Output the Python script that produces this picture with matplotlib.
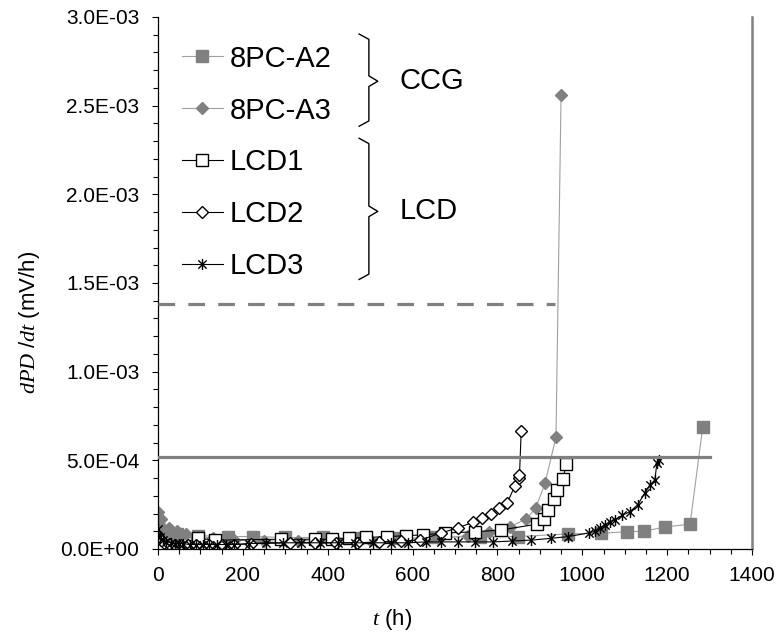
import numpy as np
import matplotlib
matplotlib.use("Agg")
import matplotlib.pyplot as plt
from matplotlib.path import Path
from matplotlib.ticker import MultipleLocator, FuncFormatter

plt.rcParams["font.family"] = ["Liberation Sans", "DejaVu Sans"]
plt.rcParams["mathtext.fontset"] = "custom"
plt.rcParams["mathtext.it"] = "Liberation Serif:italic"
plt.rcParams["mathtext.rm"] = "Liberation Sans"
plt.rcParams["lines.scale_dashes"] = False

# ---- Data (t in h, dPD/dt in 1e-3 mV/h) -----------------------------------
a2_t = [0, 20, 45, 95, 165, 225, 300, 390, 470, 560, 650, 760, 848, 966,
        1045, 1105, 1145, 1195, 1254, 1284]
a2_y = [0.12, 0.10, 0.085, 0.075, 0.07, 0.07, 0.065, 0.065, 0.06, 0.06,
        0.065, 0.07, 0.07, 0.085, 0.09, 0.097, 0.10, 0.124, 0.14, 0.69]

a3_t = [0, 8, 25, 45, 65, 90, 130, 180, 250, 330, 420, 500, 580, 660, 730,
        780, 830, 868, 890, 912, 938, 950]
a3_y = [0.21, 0.17, 0.12, 0.10, 0.085, 0.07, 0.06, 0.05, 0.045, 0.045, 0.05,
        0.05, 0.055, 0.06, 0.075, 0.095, 0.125, 0.17, 0.23, 0.37, 0.63, 2.56]

lcd1_t = [0, 95, 135, 290, 370, 410, 450, 490, 540, 585, 625, 676, 747, 808,
          893, 910, 919, 933, 940, 955, 962]
lcd1_y = [0.0, 0.06, 0.05, 0.055, 0.055, 0.055, 0.06, 0.065, 0.07, 0.075,
          0.08, 0.09, 0.097, 0.107, 0.14, 0.17, 0.22, 0.28, 0.33, 0.395, 0.48]

lcd2_t = [0, 8, 15, 25, 40, 55, 70, 90, 120, 150, 180, 220, 310, 370, 420,
          470, 520, 573, 617, 667, 707, 742, 764, 785, 804, 823, 841, 850,
          852, 856]
lcd2_y = [0.075, 0.05, 0.035, 0.03, 0.025, 0.025, 0.02, 0.02, 0.02, 0.02,
          0.025, 0.03, 0.035, 0.035, 0.035, 0.035, 0.04, 0.045, 0.05, 0.09,
          0.12, 0.15, 0.175, 0.20, 0.23, 0.26, 0.355, 0.40, 0.415, 0.665]

lcd3_t = [0, 5, 12, 20, 30, 40, 50, 60, 75, 90, 105, 120, 140, 160, 180, 215,
          255, 295, 337, 382, 424, 465, 507, 549, 590, 632, 668, 707, 747,
          790, 834, 879, 926, 966, 1015, 1030, 1042, 1053, 1065, 1077, 1094,
          1112, 1131, 1147, 1159, 1171, 1176, 1180]
lcd3_y = [0.11, 0.07, 0.05, 0.04, 0.035, 0.03, 0.03, 0.03, 0.025, 0.025,
          0.025, 0.025, 0.025, 0.025, 0.025, 0.03, 0.035, 0.035, 0.035, 0.035,
          0.035, 0.035, 0.035, 0.035, 0.035, 0.04, 0.04, 0.04, 0.04, 0.04,
          0.045, 0.05, 0.06, 0.07, 0.09, 0.10, 0.12, 0.135, 0.15, 0.165, 0.19,
          0.21, 0.25, 0.315, 0.36, 0.39, 0.485, 0.50]

thr_solid = 0.52    # horizontal reference (1e-3)
thr_dashed = 1.384
solid_end = 1300
dashed_end = 936

scale = 1e-3
star = Path([(0, -1), (0, 1), (-0.75, -0.75), (0.75, 0.75), (-0.75, 0.75), (0.75, -0.75)],
            [Path.MOVETO, Path.LINETO] * 3)

# ---- Figure ---------------------------------------------------------------
fig = plt.figure(figsize=(7.83, 6.41), dpi=100)
ax = fig.add_axes([158 / 783, 92 / 641, 594 / 783, 532 / 641])

gray_line = "#a0a0a0"
gray_mk = "#808080"
ax.plot(a2_t, np.array(a2_y) * scale, "-", color=gray_line, lw=0.8, marker="s",
        ms=8, mfc=gray_mk, mec=gray_mk, label="8PC-A2")
ax.plot(a3_t, np.array(a3_y) * scale, "-", color=gray_line, lw=0.8, marker="D",
        ms=6, mfc=gray_mk, mec=gray_mk, label="8PC-A3")
ax.plot(lcd1_t, np.array(lcd1_y) * scale, "-", color="black", lw=0.8, marker="s",
        ms=8, mfc="white", mec="black", mew=1.0, label="LCD1")
ax.plot(lcd2_t, np.array(lcd2_y) * scale, "-", color="black", lw=0.8, marker="D",
        ms=6.5, mfc="white", mec="black", mew=1.0, label="LCD2")
ax.plot(lcd3_t, np.array(lcd3_y) * scale, "-", color="black", lw=0.8, marker=star,
        ms=8, mec="black", mew=1.0, label="LCD3")

# reference lines
ax.plot([0, solid_end], [thr_solid * scale] * 2, color=gray_mk, lw=2.3, zorder=5)
ax.plot([0, dashed_end], [thr_dashed * scale] * 2, color=gray_mk, lw=2.3,
        dashes=(12, 9.5), zorder=5)

ax.set_xlim(0, 1400)
ax.set_ylim(0, 3e-3)
ax.xaxis.set_major_locator(MultipleLocator(200))
ax.xaxis.set_minor_locator(MultipleLocator(50))
ax.yaxis.set_major_locator(MultipleLocator(5e-4))
ax.yaxis.set_minor_locator(MultipleLocator(1e-4))
ax.yaxis.set_major_formatter(FuncFormatter(lambda v, p: f"{v:.1E}"))
ax.tick_params(which="both", direction="out", labelsize=15, width=0.8)
ax.tick_params(which="major", length=4.5)
ax.tick_params(which="minor", length=3.5)
ax.tick_params(axis="y", pad=9)
ax.tick_params(axis="x", pad=8)

ax.spines["top"].set_visible(False)
ax.spines["right"].set_color(gray_mk)
ax.spines["right"].set_linewidth(1.8)
ax.spines["left"].set_linewidth(0.9)
ax.spines["bottom"].set_linewidth(0.9)

leg = ax.legend(loc="upper left", bbox_to_anchor=(0.04, 0.948), frameon=False,
                fontsize=21, borderpad=0, borderaxespad=0, handlelength=1.4,
                handletextpad=0.25, labelspacing=0.82)

# braces
def brace(x0, x1, x2, ytop, ybot, ymid):
    xs = [x0, x1, x1, x2, x1, x1, x0]
    ys = [ytop, ytop - 0.03e-3, ymid + 0.03e-3, ymid, ymid - 0.03e-3, ybot + 0.03e-3, ybot]
    ax.plot(xs, ys, color="black", lw=1.0, clip_on=False)

brace(474, 497, 518, 2.904e-3, 2.384e-3, 2.638e-3)
brace(474, 497, 518, 2.316e-3, 1.520e-3, 1.904e-3)
ax.text(570, 2.638e-3, "CCG", fontsize=21, va="center", ha="left")
ax.text(570, 1.904e-3, "LCD", fontsize=21, va="center", ha="left")

fig.text(30 / 783, 1 - 322 / 641, r"$dPD\ /dt$ (mV/h)", rotation=90,
         ha="center", va="center", fontsize=16)
fig.text(392 / 783, 1 - 620 / 641, r"$t$ (h)", ha="center", va="center", fontsize=16)

fig.savefig("out.png", dpi=100, facecolor="white")
